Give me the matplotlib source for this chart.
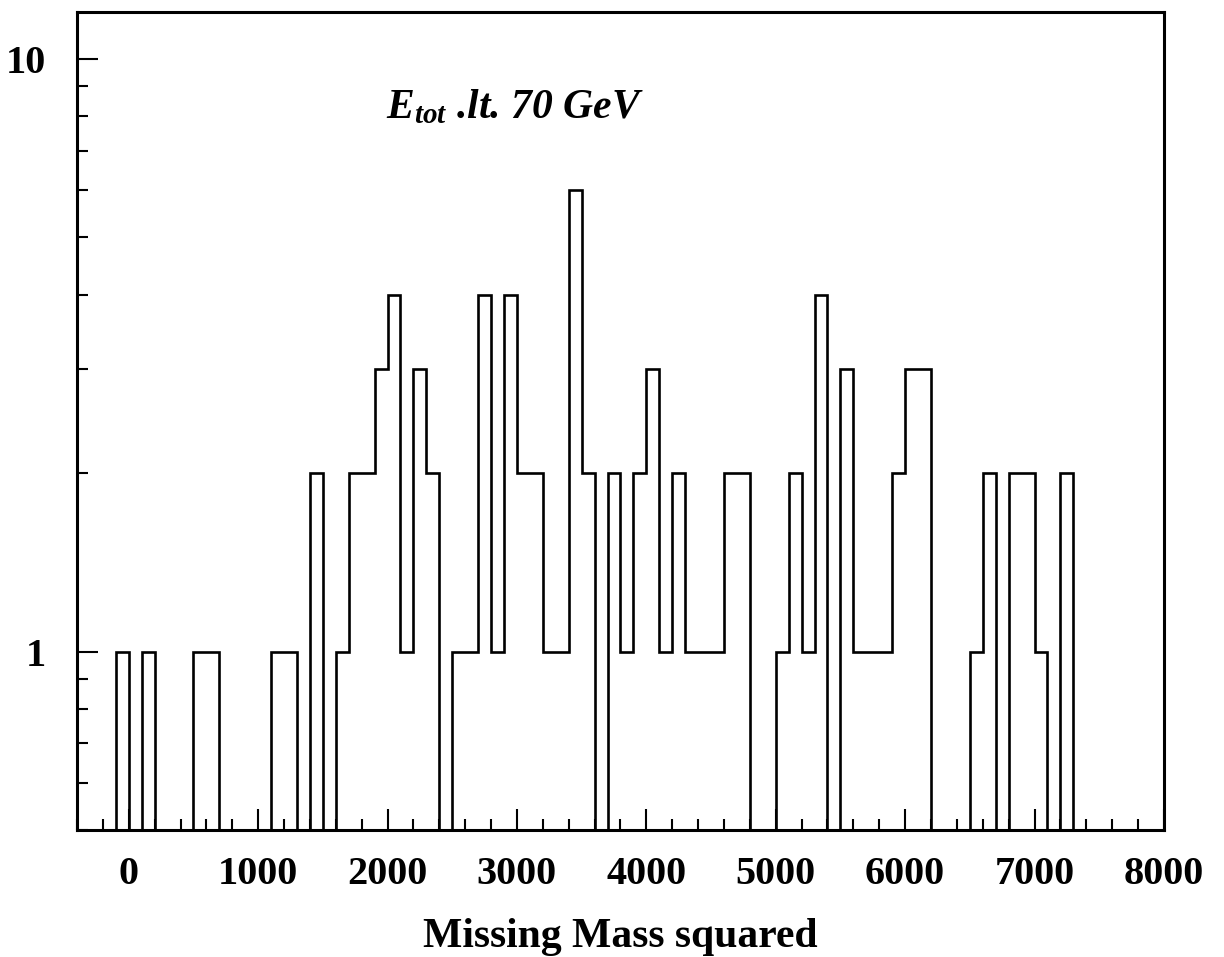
import numpy as np
import matplotlib

matplotlib.use('Agg')
import matplotlib.pyplot as plt
from matplotlib.ticker import MultipleLocator, FixedLocator, NullFormatter

# histogram of missing mass squared, bins of 100 starting at -100
bin_start = -100
bin_width = 100
counts = [1, 0, 1, 0, 0, 0, 1, 1, 0, 0,      # -100 .. 800
          0, 0, 1, 1, 0, 2, 0, 1, 2, 2,      # 900 .. 1800
          3, 4, 1, 3, 2, 0, 1, 1, 4, 1,      # 1900 .. 2800
          4, 2, 2, 1, 1, 6, 2, 0, 2, 1,      # 2900 .. 3800
          2, 3, 1, 2, 1, 1, 1, 2, 2, 0,      # 3900 .. 4800
          0, 1, 2, 1, 4, 0, 3, 1, 1, 1,      # 4900 .. 5800
          2, 3, 3, 0, 0, 0, 1, 2, 0, 2,      # 5900 .. 6800
          2, 1, 0, 2]                        # 6900 .. 7200

x_ticks = [0, 1000, 2000, 3000, 4000, 5000, 6000, 7000, 8000]
y_ticks = [1, 10]
x_label = "Missing Mass squared"
note = r"$E_{tot}$ .lt. 70 GeV"

plt.rcParams['font.family'] = ['Liberation Serif', 'DejaVu Serif']
plt.rcParams['mathtext.fontset'] = 'custom'
plt.rcParams['mathtext.it'] = 'Liberation Serif:italic:bold'
plt.rcParams['mathtext.rm'] = 'Liberation Serif:italic:bold'

edges = bin_start + bin_width * np.arange(len(counts) + 1)
vals = np.array(counts, dtype=float)
floor = 0.1  # empty bins drop below the axis on the log scale
vals = np.where(vals > 0, vals, floor)

fig = plt.figure(figsize=(12.24, 9.57), dpi=100)
ax = fig.add_axes([0.0629, 0.1327, 0.888, 0.8548])

ax.stairs(vals, edges, baseline=floor, color='black', lw=1.9, fill=False)

ax.set_yscale('log')
ax.set_xlim(-400, 8000)
ax.set_ylim(0.5, 12)

for s in ax.spines.values():
    s.set_linewidth(2.2)

ax.xaxis.set_major_locator(FixedLocator(x_ticks))
ax.xaxis.set_minor_locator(MultipleLocator(200))
ax.yaxis.set_major_locator(FixedLocator(y_ticks))
ax.set_yticklabels([str(v) for v in y_ticks])
ax.yaxis.set_minor_formatter(NullFormatter())

ax.tick_params(axis='both', which='both', direction='in', top=False, right=False,
               width=1.5)
ax.tick_params(axis='both', which='major', length=15, labelsize=29, pad=19)
ax.tick_params(axis='both', which='minor', length=8)
ax.tick_params(axis='y', which='major', pad=22)
for lab in ax.get_xticklabels() + ax.get_yticklabels():
    lab.set_fontweight('bold')

ax.set_xlabel(x_label, fontsize=30, fontweight='bold', labelpad=18)

ax.text(0.284, 0.870, note, transform=ax.transAxes, fontsize=30,
        fontweight='bold', fontstyle='italic', ha='left', va='baseline')

fig.savefig('out.png', dpi=100)
